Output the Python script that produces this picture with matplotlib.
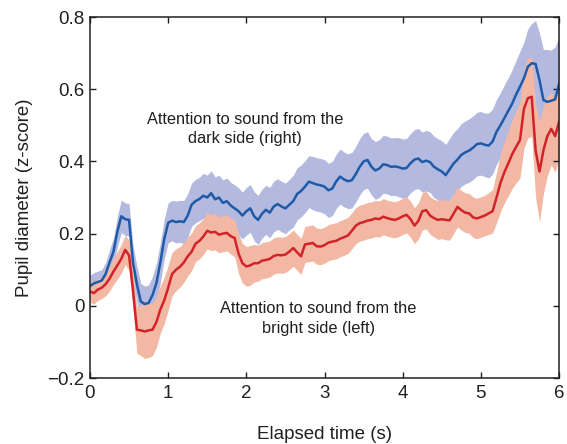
import numpy as np
import matplotlib
matplotlib.use("Agg")
import matplotlib.pyplot as plt

plt.rcParams['font.family'] = ['Liberation Sans', 'DejaVu Sans']

time_s = np.round(np.arange(0, 6.001, 0.05), 2)

dark_mean = [
    0.055, 0.062, 0.066, 0.070, 0.088, 0.120, 0.150, 0.205, 0.248, 0.240,
    0.238, 0.120, 0.060, 0.012, 0.005, 0.008, 0.030, 0.063, 0.120, 0.185,
    0.230, 0.236, 0.232, 0.234, 0.232, 0.250, 0.280, 0.290, 0.296, 0.305,
    0.300, 0.312, 0.295, 0.300, 0.285, 0.290, 0.278, 0.270, 0.262, 0.250,
    0.262, 0.270, 0.248, 0.238, 0.255, 0.266, 0.258, 0.275, 0.282, 0.275,
    0.270, 0.280, 0.290, 0.310, 0.318, 0.330, 0.344, 0.340, 0.336, 0.334,
    0.330, 0.320, 0.325, 0.345, 0.358, 0.350, 0.345, 0.348, 0.365, 0.385,
    0.400, 0.404, 0.385, 0.375, 0.380, 0.392, 0.390, 0.385, 0.386, 0.384,
    0.380, 0.382, 0.395, 0.405, 0.408, 0.398, 0.402, 0.398, 0.385, 0.378,
    0.372, 0.362, 0.378, 0.394, 0.405, 0.418, 0.425, 0.430, 0.438, 0.448,
    0.450, 0.446, 0.444, 0.455, 0.482, 0.500, 0.520, 0.540, 0.560, 0.585,
    0.607, 0.630, 0.662, 0.672, 0.670, 0.625, 0.570, 0.565, 0.568, 0.572,
    0.615,
]
dark_err = [
    0.030, 0.030, 0.030, 0.030, 0.032, 0.035, 0.038, 0.042, 0.045, 0.045,
    0.045, 0.048, 0.050, 0.050, 0.050, 0.050, 0.052, 0.055, 0.055, 0.055,
    0.055, 0.056, 0.058, 0.058, 0.060, 0.060, 0.060, 0.060, 0.060, 0.062,
    0.062, 0.062, 0.062, 0.062, 0.064, 0.064, 0.064, 0.065, 0.065, 0.065,
    0.066, 0.066, 0.068, 0.068, 0.068, 0.068, 0.070, 0.070, 0.070, 0.070,
    0.070, 0.070, 0.072, 0.072, 0.072, 0.072, 0.072, 0.074, 0.074, 0.074,
    0.075, 0.075, 0.075, 0.075, 0.076, 0.076, 0.076, 0.077, 0.077, 0.078,
    0.078, 0.078, 0.078, 0.080, 0.080, 0.080, 0.080, 0.080, 0.080, 0.082,
    0.082, 0.082, 0.082, 0.083, 0.083, 0.083, 0.084, 0.084, 0.085, 0.085,
    0.085, 0.085, 0.086, 0.086, 0.086, 0.087, 0.087, 0.088, 0.088, 0.088,
    0.088, 0.088, 0.090, 0.090, 0.090, 0.090, 0.092, 0.092, 0.094, 0.095,
    0.098, 0.100, 0.105, 0.110, 0.120, 0.130, 0.140, 0.145, 0.140, 0.145,
    0.130,
]

bright_mean = [
    0.040, 0.035, 0.045, 0.050, 0.060, 0.075, 0.095, 0.112, 0.130, 0.155,
    0.140, 0.044, -0.066, -0.068, -0.071, -0.068, -0.066, -0.045, -0.010, 0.015,
    0.050, 0.088, 0.100, 0.108, 0.120, 0.137, 0.150, 0.172, 0.180, 0.192,
    0.208, 0.203, 0.205, 0.197, 0.200, 0.202, 0.193, 0.188, 0.145, 0.118,
    0.109, 0.112, 0.118, 0.118, 0.125, 0.127, 0.130, 0.138, 0.141, 0.140,
    0.142, 0.150, 0.160, 0.148, 0.137, 0.170, 0.172, 0.174, 0.165, 0.164,
    0.168, 0.175, 0.178, 0.180, 0.186, 0.190, 0.195, 0.208, 0.222, 0.229,
    0.232, 0.236, 0.238, 0.242, 0.240, 0.247, 0.243, 0.240, 0.238, 0.242,
    0.248, 0.252, 0.240, 0.222, 0.235, 0.262, 0.265, 0.250, 0.243, 0.238,
    0.240, 0.238, 0.237, 0.255, 0.274, 0.265, 0.258, 0.256, 0.245, 0.242,
    0.246, 0.250, 0.256, 0.262, 0.300, 0.340, 0.370, 0.394, 0.420, 0.440,
    0.459, 0.545, 0.575, 0.579, 0.430, 0.372, 0.431, 0.470, 0.490, 0.470,
    0.510,
]
bright_err = [
    0.030, 0.030, 0.030, 0.030, 0.032, 0.034, 0.036, 0.038, 0.040, 0.040,
    0.042, 0.050, 0.065, 0.070, 0.075, 0.075, 0.072, 0.070, 0.066, 0.064,
    0.062, 0.060, 0.058, 0.056, 0.055, 0.054, 0.052, 0.050, 0.050, 0.050,
    0.050, 0.050, 0.050, 0.050, 0.050, 0.050, 0.050, 0.052, 0.055, 0.055,
    0.055, 0.055, 0.052, 0.050, 0.050, 0.050, 0.050, 0.050, 0.050, 0.050,
    0.050, 0.050, 0.050, 0.050, 0.050, 0.050, 0.050, 0.050, 0.050, 0.050,
    0.050, 0.050, 0.050, 0.050, 0.050, 0.050, 0.050, 0.050, 0.050, 0.050,
    0.050, 0.050, 0.050, 0.050, 0.050, 0.050, 0.050, 0.050, 0.050, 0.050,
    0.050, 0.050, 0.050, 0.050, 0.050, 0.052, 0.052, 0.052, 0.052, 0.054,
    0.054, 0.055, 0.055, 0.055, 0.055, 0.055, 0.055, 0.055, 0.056, 0.056,
    0.056, 0.056, 0.058, 0.060, 0.070, 0.080, 0.085, 0.090, 0.095, 0.100,
    0.105, 0.110, 0.110, 0.110, 0.130, 0.140, 0.120, 0.110, 0.100, 0.100,
    0.100,
]

dark_label = "Attention to sound from the\ndark side (right)"
bright_label = "Attention to sound from the\nbright side (left)"

dark_mean = np.array(dark_mean)
dark_err = np.array(dark_err)
bright_mean = np.array(bright_mean)
bright_err = np.array(bright_err)

fig = plt.figure(figsize=(5.67, 4.44), dpi=100)
ax = fig.add_axes([0.1587, 0.1486, 0.8273, 0.8131])

ax.fill_between(time_s, dark_mean - dark_err, dark_mean + dark_err,
                color='#b3b9df', linewidth=0)
ax.fill_between(time_s, bright_mean - bright_err, bright_mean + bright_err,
                color='#f3b8a3', linewidth=0)
ax.plot(time_s, dark_mean, color='#1f5aa8', linewidth=1.8)
ax.plot(time_s, bright_mean, color='#d4222a', linewidth=1.8)

ax.text(1.98, 0.49, dark_label, ha='center', va='center', fontsize=11.8,
        color='#231f20', linespacing=1.35)
ax.text(2.92, -0.035, bright_label, ha='center', va='center', fontsize=11.8,
        color='#231f20', linespacing=1.35)

ax.set_xlim(0, 6)
ax.set_ylim(-0.2, 0.8)
ax.set_xticks([0, 1, 2, 3, 4, 5, 6])
ax.set_yticks([-0.2, 0, 0.2, 0.4, 0.6, 0.8])
ax.set_yticklabels(['\u22120.2', '0', '0.2', '0.4', '0.6', '0.8'])
ax.tick_params(direction='in', length=4, width=1, top=True, right=True,
               labelsize=13.5, colors='#231f20')
ax.tick_params(axis='x', pad=5)
ax.tick_params(axis='y', pad=4)
for sp in ax.spines.values():
    sp.set_color('#231f20')
    sp.set_linewidth(1.1)

ax.set_xlabel('Elapsed time (s)', fontsize=13.5, color='#231f20', labelpad=17)
ax.set_ylabel('Pupil diameter (z-score)', fontsize=13.5, color='#231f20',
              labelpad=10)

fig.savefig('out.png', dpi=100)
